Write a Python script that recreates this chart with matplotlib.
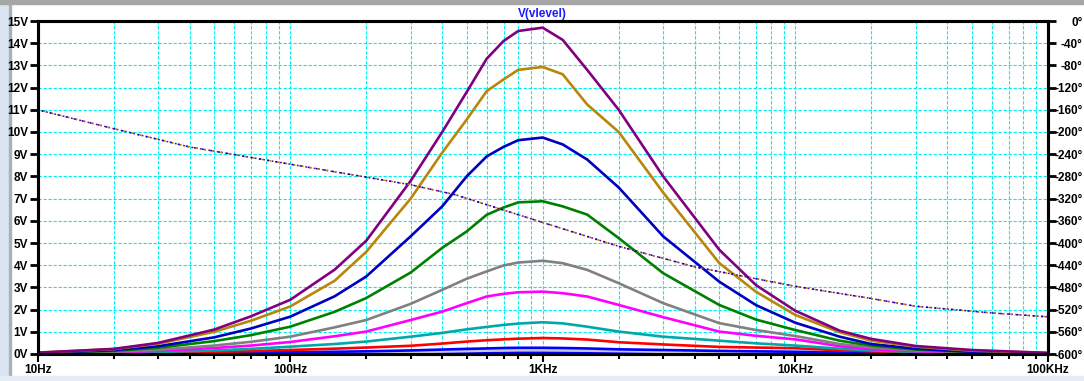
import matplotlib.pyplot as plt
from matplotlib.patches import Rectangle
from matplotlib.ticker import FixedLocator, LogLocator, NullFormatter

# frequency points (Hz)
freq = [10, 20, 30, 50, 70, 100, 150, 200, 300, 400, 500, 600, 700, 800, 1000,
        1200, 1500, 2000, 3000, 5000, 7000, 10000, 15000, 20000, 30000, 50000, 100000]

# magnitudes (V) per trace
v_purple = [0.06, 0.23, 0.5, 1.1, 1.7, 2.44, 3.8, 5.1, 7.8, 10.0, 11.8, 13.3, 14.1, 14.55, 14.7,
            14.15, 12.8, 11.0, 8.0, 4.7, 3.1, 1.95, 1.05, 0.68, 0.36, 0.18, 0.05]
v_gold = [0.06, 0.22, 0.46, 1.0, 1.5, 2.14, 3.3, 4.6, 7.0, 9.07, 10.56, 11.84, 12.37, 12.8, 12.93,
          12.6, 11.24, 10.0, 7.27, 4.1, 2.8, 1.76, 0.98, 0.6, 0.33, 0.15, 0.05]
v_navy = [0.05, 0.17, 0.35, 0.75, 1.15, 1.68, 2.6, 3.49, 5.3, 6.65, 8.0, 8.9, 9.33, 9.63, 9.75,
          9.44, 8.76, 7.5, 5.3, 3.26, 2.2, 1.41, 0.78, 0.45, 0.24, 0.1, 0.03]
v_green = [0.04, 0.14, 0.28, 0.58, 0.85, 1.23, 1.9, 2.52, 3.67, 4.78, 5.52, 6.27, 6.6, 6.83, 6.88,
           6.65, 6.28, 5.22, 3.64, 2.21, 1.55, 1.08, 0.6, 0.38, 0.2, 0.09, 0.03]
v_gray = [0.03, 0.1, 0.19, 0.38, 0.55, 0.78, 1.2, 1.53, 2.26, 2.89, 3.39, 3.72, 3.99, 4.12, 4.2,
          4.09, 3.79, 3.19, 2.29, 1.39, 1.08, 0.81, 0.45, 0.3, 0.16, 0.08, 0.02]
v_magenta = [0.02, 0.07, 0.14, 0.27, 0.38, 0.54, 0.8, 1.01, 1.53, 1.91, 2.29, 2.59, 2.71, 2.78, 2.81,
             2.74, 2.59, 2.21, 1.66, 1.01, 0.82, 0.66, 0.35, 0.22, 0.12, 0.06, 0.02]
v_teal = [0.02, 0.05, 0.09, 0.16, 0.23, 0.33, 0.45, 0.56, 0.78, 0.95, 1.11, 1.22, 1.31, 1.37, 1.43,
          1.38, 1.23, 1.01, 0.78, 0.6, 0.48, 0.38, 0.24, 0.16, 0.09, 0.05, 0.01]
v_red = [0.01, 0.03, 0.05, 0.09, 0.13, 0.18, 0.24, 0.29, 0.37, 0.47, 0.56, 0.62, 0.66, 0.69, 0.72,
         0.7, 0.65, 0.53, 0.43, 0.32, 0.29, 0.26, 0.17, 0.12, 0.07, 0.04, 0.01]
v_blue = [0.01, 0.02, 0.03, 0.05, 0.06, 0.08, 0.1, 0.12, 0.16, 0.2, 0.23, 0.25, 0.27, 0.28, 0.28,
          0.27, 0.25, 0.21, 0.18, 0.14, 0.12, 0.1, 0.07, 0.05, 0.03, 0.02, 0.01]
v_light = [0.0, 0.01, 0.02, 0.03, 0.04, 0.05, 0.06, 0.07, 0.09, 0.11, 0.13, 0.15, 0.16, 0.17, 0.17,
           0.16, 0.15, 0.13, 0.1, 0.08, 0.07, 0.06, 0.04, 0.03, 0.02, 0.01, 0.0]
v_low = [0.0, 0.0, 0.01, 0.01, 0.02, 0.02, 0.03, 0.03, 0.04, 0.05, 0.05, 0.06, 0.06, 0.07, 0.07,
         0.07, 0.06, 0.05, 0.04, 0.03, 0.03, 0.02, 0.01, 0.01, 0.0, 0.0, 0.0]

traces = [
    (v_low, "#0000ff"), (v_light, "#c8c8c8"), (v_blue, "#0000ff"), (v_red, "#ff0000"),
    (v_teal, "#00a8a8"), (v_magenta, "#ff00ff"), (v_gray, "#808080"), (v_green, "#008000"),
    (v_navy, "#0000c0"), (v_gold, "#b8860b"), (v_purple, "#800080"),
]

# phase (degrees) of the traces, dotted, right axis
phase_freq = [10, 20, 40, 100, 300, 450, 1000, 2000, 4000, 10000, 20000, 30000, 60000, 100000]
phase_deg = [-160, -194, -227, -258, -295, -313, -363, -406, -443, -478, -500, -514, -526, -533]

v_ticks = list(range(0, 16))
v_labels = [f"{v}V" for v in v_ticks]
deg_ticks = list(range(0, -601, -40))
deg_labels = [f"{d}°" for d in deg_ticks]
f_ticks = [10, 100, 1000, 10000, 100000]
f_labels = ["10Hz", "100Hz", "1KHz", "10KHz", "100KHz"]

W, H = 1084, 381
fig = plt.figure(figsize=(W / 100, H / 100), dpi=100)
fig.patch.set_facecolor("white")

# window chrome
fig.add_artist(Rectangle((0, 0), 9 / W, 1, transform=fig.transFigure, color="#dbe5f1", zorder=0))
fig.add_artist(Rectangle((9 / W, 0), 1.5 / W, 1, transform=fig.transFigure, color="#a8b0b8", zorder=0))
fig.add_artist(Rectangle((0, 1 - 4 / H), 1, 4 / H, transform=fig.transFigure, color="#a6a6a6", zorder=0))
fig.add_artist(Rectangle((0, 0), 1, 5 / H, transform=fig.transFigure, color="#e6edf5", zorder=0))

left, right, top, bottom = 37.7, 1047.7, 21, 354
ax = fig.add_axes([left / W, (H - bottom) / H, (right - left) / W, (bottom - top) / H])
ax.set_xscale("log")
ax.set_xlim(10, 100000)
ax.set_ylim(0, 15)

grid_kw = dict(color="#00f0f0", lw=0.8, ls=(0, (3, 1.5)))
ax.xaxis.set_minor_locator(LogLocator(base=10, subs=range(2, 10)))
ax.xaxis.set_minor_formatter(NullFormatter())
ax.grid(True, which="both", axis="x", **grid_kw)
ax.grid(True, which="major", axis="y", **grid_kw)

ax.set_xticks(f_ticks)
ax.set_xticklabels(f_labels)
ax.set_yticks(v_ticks)
ax.set_yticklabels(v_labels)

for s in ax.spines.values():
    s.set_linewidth(2.2)
    s.set_color("black")

ax.tick_params(axis="y", direction="out", length=6, width=2, pad=1,
               labelsize=8.5, colors="black")
ax.tick_params(axis="x", which="major", direction="out", length=6, width=1.5, pad=1,
               labelsize=8.5)
ax.tick_params(axis="x", which="minor", direction="out", length=3.5, width=1.5)
for lab in ax.get_xticklabels() + ax.get_yticklabels():
    lab.set_fontfamily("Liberation Sans")
    lab.set_fontweight("bold")

for vals, col in traces:
    ax.plot(freq, vals, color=col, lw=1.9, solid_joinstyle="miter", zorder=3)

ax2 = ax.twinx()
ax2.set_ylim(-600, 0)
ax2.yaxis.set_major_locator(FixedLocator(deg_ticks))
ax2.set_yticklabels(deg_labels, ha="right")
ax2.tick_params(axis="y", direction="out", length=6, width=2, pad=19, labelsize=8.5)
for lab in ax2.get_yticklabels():
    lab.set_fontfamily("Liberation Sans")
    lab.set_fontweight("bold")
for s in ax2.spines.values():
    s.set_linewidth(2.2)
ax2.plot(phase_freq, phase_deg, color="#800080", lw=1.1, ls=(0, (1.2, 1.6)), zorder=2)
ax2.plot(phase_freq, phase_deg, color="#b8860b", lw=1.1, ls=(1.4, (1.2, 4.2)), zorder=2)
ax2.plot(phase_freq, phase_deg, color="#0000c0", lw=1.1, ls=(2.8, (1.2, 4.2)), zorder=2)

ax.set_title("V(vlevel)", color="#1a1aff", fontsize=8.5, fontweight="bold",
             fontfamily="Liberation Sans", pad=3)

fig.savefig("out.png", dpi=100)
